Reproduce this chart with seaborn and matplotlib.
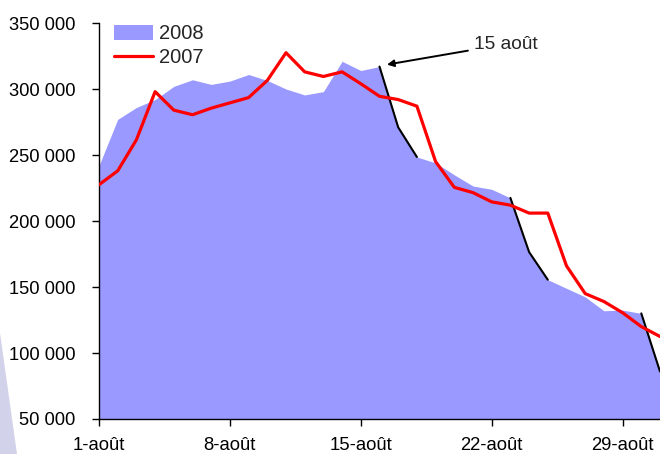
import numpy as np
import pandas as pd
import matplotlib
matplotlib.use("Agg")
import matplotlib.pyplot as plt
from matplotlib.patches import Patch, Polygon
from matplotlib.lines import Line2D
import seaborn as sns

# daily values, 1 to 31 August
days = list(range(1, 32))
v2008 = [242000, 277000, 286000, 292000, 302000, 307000, 303500, 306000, 311000, 306500,
         300000, 295500, 298000, 321000, 314000, 317000, 271000, 248500, 244000, 235000,
         226500, 224000, 217500, 176500, 155500, 149000, 142500, 132000, 132500, 130000,
         86000]
v2007 = [227500, 238000, 261500, 298000, 284000, 280500, 285500, 289500, 293500, 306500,
         327500, 313000, 309500, 313000, 304000, 294500, 292000, 287000, 245000, 225500,
         221500, 214500, 212000, 206000, 206000, 166000, 145000, 139000, 130500, 120000,
         112500]
# drops highlighted with a black edge (start day, end day)
drops = [(16, 18), (23, 25), (30, 31)]

xtick_days = [1, 8, 15, 22, 29]
xtick_labels = ["1-août", "8-août", "15-août", "22-août", "29-août"]
ytick_vals = [50000, 100000, 150000, 200000, 250000, 300000, 350000]
ytick_labels = ["50 000", "100 000", "150 000", "200 000", "250 000", "300 000", "350 000"]

df = pd.DataFrame({"jour": days, "2008": v2008, "2007": v2007})

sns.set_style("ticks")
plt.rcParams['font.family'] = ['Liberation Sans', 'DejaVu Sans']

fig = plt.figure(figsize=(6.6, 4.54), dpi=100)
ax = fig.add_axes([0.15, 0.0771, 0.85, 0.8722])

# faint shape at the bottom left of the original
fig.patches.append(Polygon([(0, 0.267), (0, 0), (0.026, 0)], closed=True,
                           transform=fig.transFigure, facecolor="#d2d2ea",
                           edgecolor="none", zorder=0))

ax.fill_between(df["jour"], 50000, df["2008"], color="#9999ff", linewidth=0, zorder=1)
for a, b in drops:
    seg = df[(df["jour"] >= a) & (df["jour"] <= b)]
    ax.plot(seg["jour"], seg["2008"], color="black", lw=1.5, zorder=2)
sns.lineplot(data=df, x="jour", y="2007", color="#ff0000", lw=2.3, ax=ax, zorder=3)

ax.set_xlim(1, 31)
ax.set_ylim(50000, 350000)
ax.set_xticks(xtick_days)
ax.set_xticklabels(xtick_labels)
ax.set_yticks(ytick_vals)
ax.set_yticklabels(ytick_labels)
ax.set_xlabel("")
ax.set_ylabel("")
ax.tick_params(axis="y", length=5, width=1, pad=12, labelsize=13.2, colors="black")
ax.tick_params(axis="x", length=5, width=1, pad=8, labelsize=13.3, colors="black")
sns.despine(ax=ax)
for s in ["left", "bottom"]:
    ax.spines[s].set_color("black")
    ax.spines[s].set_linewidth(1)

ax.annotate("15 août", xy=(16.4, 318500), xytext=(21.05, 334000),
            fontsize=13.8, va="center", ha="left",
            arrowprops=dict(arrowstyle="-|>", color="black", lw=1.4,
                            mutation_scale=10, shrinkA=2, shrinkB=0))

handles = [Patch(facecolor="#9999ff", edgecolor="none"),
           Line2D([0], [0], color="#ff0000", lw=2.3)]
ax.legend(handles, ["2008", "2007"], loc="upper left", bbox_to_anchor=(0.012, 1.017),
          frameon=False, fontsize=14.5, handlelength=1.95, handleheight=0.75,
          handletextpad=0.3, labelspacing=0.25, borderaxespad=0)

fig.savefig("out.png", dpi=100)
